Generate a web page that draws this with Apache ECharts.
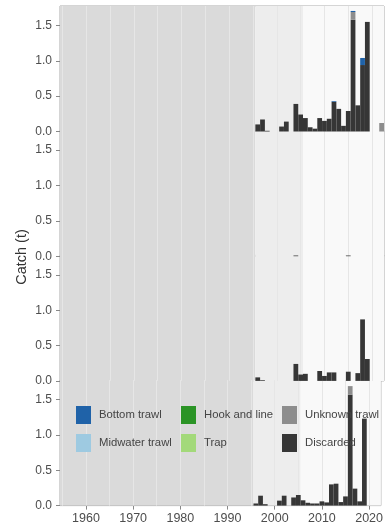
<!DOCTYPE html>
<html><head><meta charset="utf-8">
<script src="https://cdn.jsdelivr.net/npm/echarts@6/dist/echarts.min.js"></script>
<style>html,body{margin:0;padding:0;background:#fff}#c{width:386px;height:527px}</style>
</head><body><div id="c"></div>
<script>
// ---------- data ----------
const years = [1996,1997,1998,1999,2000,2001,2002,2003,2004,2005,2006,2007,2008,2009,2010,2011,2012,2013,2014,2015,2016,2017,2018,2019,2020,2021,2022];
const panelNames = ['Coastwide','5CDE','5AB','3CD'];
const gearNames = ['Bottom trawl','Midwater trawl','Hook and line','Trap','Unknown trawl','Discarded'];
const gearColors = ['#1f62a8','#9ecae1','#2b9426','#a3d97a','#8d8d8d','#363636'];

// Coastwide
const coastDiscarded   = [0.10,0.17,0.01,0,0,0.07,0.14,0,0.39,0.24,0.19,0.06,0.04,0.19,0.15,0.18,0.42,0.32,0.08,0.29,1.58,0.37,0.94,1.55,0,0,0];
const coastUnknown     = [0,0,0,0,0,0,0,0,0,0,0,0,0,0,0,0,0,0,0,0,0.11,0,0,0,0,0,0.12];
const coastBottom      = [0,0,0,0,0,0,0,0,0,0,0,0,0,0,0,0,0.01,0,0,0,0.015,0,0.10,0,0,0,0];
// 5CDE
const cdeDiscarded     = [0,0,0,0,0,0,0,0,0.01,0,0,0,0,0,0,0,0,0,0,0.01,0,0,0,0,0,0,0];
// 5AB
const abDiscarded      = [0.05,0.01,0,0,0,0,0,0,0.24,0.09,0.10,0,0,0.14,0.07,0.12,0.12,0,0,0.13,0,0.11,0.87,0.31,0,0,0];
// 3CD
const cdDiscarded      = [0.03,0.14,0.02,0,0,0.07,0.14,0,0.115,0.15,0.075,0.04,0.03,0.03,0.06,0.045,0.30,0.31,0.05,0.13,1.57,0.24,0.06,1.23,0,0,0];
const cdUnknown        = [0,0,0,0,0,0,0,0,0,0,0,0,0,0,0,0,0,0,0,0,0.12,0,0,0,0,0,0];

const panelData = [
  {'Discarded': coastDiscarded, 'Unknown trawl': coastUnknown, 'Bottom trawl': coastBottom},
  {'Discarded': cdeDiscarded},
  {'Discarded': abDiscarded},
  {'Discarded': cdDiscarded, 'Unknown trawl': cdUnknown}
];

const yTickValues = [0, 0.5, 1.0, 1.5];
const xTickYears = [1960,1970,1980,1990,2000,2010,2020];
const gridYears = [1955,1960,1965,1970,1975,1980,1985,1990,1995,2000,2005,2010,2015,2020];
const shadePeriods = [[1954.5,1995.5,'#dadada'],[1995.5,2005.5,'#ededed'],[2005.5,2022.5,'#f9f9f9']];
const FIRST_YEAR = 1955, LAST_YEAR = 2022;

// ---------- layout ----------
const FONT = 'Liberation Sans, Arial, Helvetica, sans-serif';
const X_MIN = FIRST_YEAR - 0.5, X_MAX = LAST_YEAR + 0.5, Y_MAX = 1.775;
const GL = 60, GR = 2, TOP0 = 6, STEP = 124.7, H = 125.5;

const allYears = [];
for (let y = FIRST_YEAR; y <= LAST_YEAR; y++) allYears.push(String(y));

const grids = [], xAxes = [], yAxes = [], series = [], graphics = [];
const stackOrder = ['Discarded','Unknown trawl','Trap','Midwater trawl','Hook and line','Bottom trawl'];

panelNames.forEach((name, i) => {
  const top = TOP0 + STEP * i;
  grids.push({left: GL, right: GR, top: top, height: H, show: true, borderColor: '#aaaaaa', borderWidth: 1, backgroundColor: 'transparent'});
  const last = i === panelNames.length - 1;
  // value x axis (labels, ticks, background)
  xAxes.push({
    type: 'value', gridIndex: i, min: X_MIN, max: X_MAX,
    axisLine: {show: false},
    splitLine: {show: false},
    axisTick: {show: last, length: 4, lineStyle: {color: '#888'}, customValues: xTickYears},
    axisLabel: {show: last, customValues: xTickYears, color: '#4d4d4d', fontSize: 12.5, fontFamily: FONT, margin: 6, formatter: v => String(v)}
  });
  // category x axis for the bars (hidden)
  xAxes.push({
    type: 'category', gridIndex: i, data: allYears, boundaryGap: true, show: false
  });
  yAxes.push({
    type: 'value', gridIndex: i, min: 0, max: Y_MAX,
    axisLine: {show: false}, splitLine: {show: false},
    axisTick: {show: true, length: 4, lineStyle: {color: '#888'}, customValues: yTickValues},
    axisLabel: {customValues: yTickValues, color: '#4d4d4d', fontSize: 12, fontFamily: FONT, margin: 8, formatter: v => v.toFixed(1)}
  });
  // background shading + grid lines
  series.push({
    type: 'line', xAxisIndex: 2 * i, yAxisIndex: i, data: [], silent: true, z: 0, animation: false,
    markArea: {silent: true, z: 0, itemStyle: {opacity: 1}, label: {show: false},
      data: shadePeriods.map(p => [{xAxis: p[0], yAxis: 0, itemStyle: {color: p[2]}}, {xAxis: p[1], yAxis: Y_MAX}])},
    markLine: {silent: true, z: 1, symbol: ['none','none'], label: {show: false}, animation: false,
      lineStyle: {color: '#e6e6e6', width: 1, type: 'solid'},
      data: gridYears.map(y => ({xAxis: y}))}
  });
  stackOrder.forEach(g => {
    const vals = panelData[i][g] || years.map(() => 0);
    series.push({
      type: 'bar', name: g, xAxisIndex: 2 * i + 1, yAxisIndex: i, stack: 'p' + i, z: 2,
      barWidth: '100%', animation: false,
      itemStyle: {color: gearColors[gearNames.indexOf(g)]},
      data: years.map((y, k) => [String(y), vals[k]])
    });
  });
  graphics.push({type: 'text', left: 67, top: top + 8, silent: true,
    style: {text: name, fill: '#555555', font: '12.5px ' + FONT}});
});

graphics.push({type: 'text', x: 22, y: 257, rotation: Math.PI / 2, silent: true,
  style: {text: 'Catch (t)', fill: '#333333', font: '14.5px ' + FONT, align: 'center', verticalAlign: 'middle'}});

const legendCols = [['Bottom trawl','Midwater trawl'],['Hook and line','Trap'],['Unknown trawl','Discarded']];
const legendLefts = [76, 181, 282];
const legends = legendCols.map((col, j) => ({
  orient: 'vertical', left: legendLefts[j], top: 406, itemWidth: 15, itemHeight: 18, itemGap: 10,
  icon: 'rect', selectedMode: false, padding: 0, z: 10,
  data: col.map(n => ({name: n, itemStyle: {color: gearColors[gearNames.indexOf(n)]}})),
  textStyle: {color: '#444', fontSize: 11.3, fontFamily: FONT, padding: [0,0,0,3]}
}));

const chart = echarts.init(document.getElementById('c'), null, {renderer: 'canvas'});
chart.setOption({
  animation: false,
  grid: grids, xAxis: xAxes, yAxis: yAxes, series: series,
  legend: legends, graphic: graphics
});
</script></body></html>
